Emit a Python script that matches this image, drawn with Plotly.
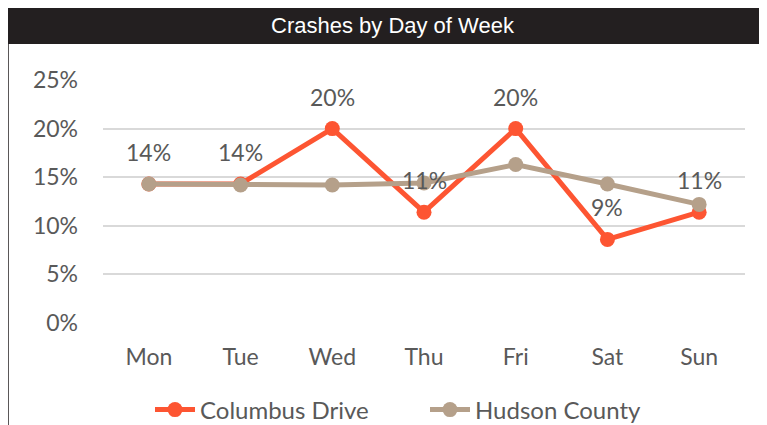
import plotly.graph_objects as go

days = ["Mon", "Tue", "Wed", "Thu", "Fri", "Sat", "Sun"]
columbus = [0.143, 0.143, 0.200, 0.114, 0.200, 0.086, 0.114]
hudson = [0.143, 0.142, 0.142, 0.144, 0.163, 0.143, 0.122]
y_ticks = [0, 0.05, 0.10, 0.15, 0.20, 0.25]
title_text = "Crashes by Day of Week"

# the page places the figure 8px from the window's top-left corner
OFF = 8
W, H = 767 - OFF, 425 - OFF
# plot area in window pixels
L, R, T, B = 103, 745, 80, 323
pw, ph = R - L, B - T

def px_x(px):
    return (px - L) / pw

def px_y(py):
    return (B - py) / ph

font_fam = "Lato, 'Open Sans', sans-serif"
txt_col = "#595959"

fig = go.Figure()
fig.add_trace(go.Scatter(
    x=days, y=columbus, name="Columbus Drive", mode="lines+markers",
    line=dict(color="#fd5532", width=5),
    marker=dict(color="#fd5532", size=15),
))
fig.add_trace(go.Scatter(
    x=days, y=hudson, name="Hudson County", mode="lines+markers",
    line=dict(color="#b5a08a", width=5),
    marker=dict(color="#b5a08a", size=15),
))

annotations = []
for d, v in zip(days, columbus):
    annotations.append(dict(
        x=d, y=v, xref="x", yref="y", text=f"{v:.0%}", showarrow=False,
        yshift=32, font=dict(family=font_fam, size=23, color=txt_col),
    ))
annotations.append(dict(
    x=px_x(393), y=px_y(25), xref="paper", yref="paper", text=title_text,
    showarrow=False, xanchor="center", yanchor="middle",
    font=dict(family="'Liberation Sans Narrow', 'Arial Narrow', sans-serif", size=22, color="white"),
))

shapes = [
    dict(type="rect", xref="paper", yref="paper",
         x0=px_x(7), x1=px_x(770), y0=px_y(44), y1=px_y(6),
         fillcolor="#231f20", line=dict(width=0), layer="above"),
    dict(type="line", xref="paper", yref="paper",
         x0=px_x(8), x1=px_x(8), y0=px_y(44), y1=px_y(430),
         line=dict(color="#231f20", width=1.5)),
]

fig.update_layout(
    width=W, height=H,
    margin=dict(l=L - OFF, r=767 - R, t=T - OFF, b=425 - B, autoexpand=False),
    paper_bgcolor="white", plot_bgcolor="white",
    showlegend=True,
    legend=dict(orientation="h", xref="container", yref="container",
                x=(150 - OFF) / W, xanchor="left",
                y=1 - (410 - OFF) / H, yanchor="middle",
                font=dict(family=font_fam, size=24, color=txt_col),
                itemwidth=40, tracegroupgap=0,
                entrywidth=220, entrywidthmode="pixels"),
    xaxis=dict(type="category", categoryorder="array", categoryarray=days,
               range=[-0.5, 6.5], showgrid=False, zeroline=False, showline=False,
               ticks="", ticklabelstandoff=18, automargin=False,
               tickfont=dict(family=font_fam, size=23, color=txt_col)),
    yaxis=dict(range=[0, 0.25], tickvals=y_ticks, tickformat=".0%",
               showgrid=True, gridcolor="#d9d9d9", gridwidth=2,
               zeroline=False, showline=False, ticks="", ticklabelstandoff=24,
               automargin=False,
               tickfont=dict(family=font_fam, size=23, color=txt_col)),
    annotations=annotations,
    shapes=shapes,
)

fig.write_html("out.html")
